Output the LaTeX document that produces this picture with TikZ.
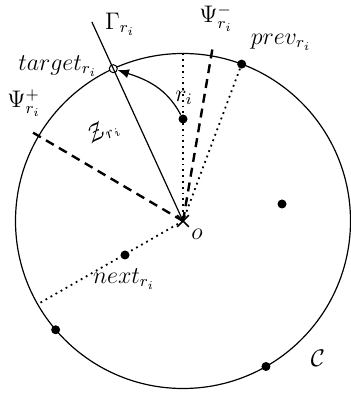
\documentclass[tikz,border=0pt]{standalone}
\usepackage{amssymb}
\usepackage{tikz}
\usetikzlibrary{positioning, arrows.meta, shapes.misc, calc}

\begin{document}
\begin{tikzpicture}[
    x=0.5pt, y=0.5pt,
    font=\large,
    robot/.style={
        circle,
        fill=black,
        inner sep=0pt,
        minimum size=4.5pt
    },
    tgtmark/.style={
        circle,
        draw,
        fill=white,
        line width=0.5pt,
        inner sep=0pt,
        minimum size=4pt
    },
    ray/.style={dotted, line width=0.9pt},
    bound/.style={line width=1.2pt, dash pattern=on 4.5pt off 3pt},
    arr/.style={-{Latex[length=2mm, width=1.6mm]}, line width=0.6pt}
]
\useasboundingbox (0,0) rectangle (351,399);

\node[cross out, draw, line width=0.8pt, minimum size=5pt, inner sep=0pt] (o) at (183,178) {};
\draw[line width=0.6pt] (o.center) circle [radius=83.75pt];

\coordinate (top)    at ($(o.center)+(90:167.5)$);
\coordinate (gam)    at ($(o.center)+(114.6:219)$);
\coordinate (psim)   at ($(o.center)+(80.3:177)$);
\coordinate (psip)   at ($(o.center)+(149.5:177)$);
\coordinate (nxtend) at ($(o.center)+(209.8:167.5)$);

\node[tgtmark] (target) at ($(o.center)+(114.6:167.5)$) {};
\node[robot]   (ri)     at (183,280) {};
\node[robot]   (prev)   at ($(o.center)+(69.5:167.5)$) {};
\node[robot]   (next)   at (125,144) {};
\node[robot]   (rob1)   at (282,195) {};
\node[robot]   (rob2)   at ($(o.center)+(220.5:167.5)$) {};
\node[robot]   (rob3)   at ($(o.center)+(299.7:167.5)$) {};

\draw[ray] (top) -- (o.center);
\draw[ray] (prev) -- (o.center);
\draw[ray] (o.center) -- (nxtend);
\draw[bound] (o.center) -- (psim);
\draw[bound] (o.center) -- (psip);
\draw[line width=0.6pt] (o.center) -- (gam);
\draw[arr] (ri) to[out=118, in=-18] (target);

\node at (120,375) {$\Gamma_{r_i}$};
\node at (216,381) {$\Psi^-_{r_i}$};
\node at (24,296) {$\Psi^+_{r_i}$};
\node[anchor=east] at (104,333) {$target_{r_i}$};
\node at (281,357) {$prev_{r_i}$};
\node at (124,120) {$next_{r_i}$};
\node at (184,301) {$r_i$};
\node at (197,165) {$o$};
\node[rotate=30] at (103,267) {$\mathcal{Z}_{r_i}$};
\node at (318,41) {$\mathcal{C}$};

\end{tikzpicture}
\end{document}
